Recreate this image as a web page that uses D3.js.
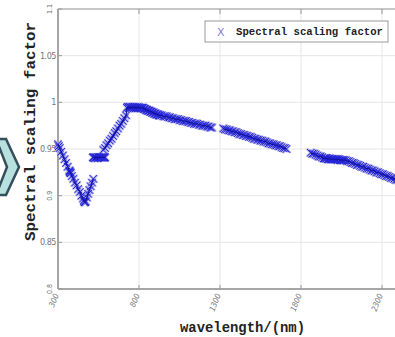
<!DOCTYPE html>
<html>
<head>
<meta charset="utf-8">
<script src="https://cdn.jsdelivr.net/npm/d3@7"></script>
<style>
html,body{margin:0;padding:0;background:#fff;}
svg{display:block;}
</style>
</head>
<body>
<svg id="chart" width="395" height="337"></svg>
<script>
// ---- data; null marks a break in the line ----
const wavelength = [
  300,305,310,320,330,340,350,360,370,372,374,376,378,
  385,395,405,415,425,435,445,455,460,462,464,466,468,470,
  478,486,494,502,510,518,
  null,
  515,519,523,527,531,535,539,543,547,551,555,559,563,567,571,575,579,583,587,591,
  null,
  580,590,600,610,620,630,640,650,660,670,680,690,700,710,720,
  726,730,734,738,742,746,750,754,758,762,766,770,774,778,782,786,790,794,798,802,806,810,814,818,
  822,826,830,834,838,842,846,850,854,858,862,866,870,874,878,882,886,890,894,898,902,906,910,914,918,922,926,930,
  940,950,960,970,980,990,1000,1010,1020,1030,1040,1050,1060,1070,1080,1090,1100,1110,1120,1130,1140,1150,1160,1170,1180,1190,1200,1210,1220,1230,1240,1250,
  null,
  1320,1330,1340,1350,1360,1370,1380,1390,1400,1410,1420,1430,1440,1450,1460,1470,1480,1490,1500,1510,1520,1530,1540,1550,1560,1570,1580,1590,1600,1610,1620,1630,1640,1650,1660,1670,1680,1690,1700,1710,
  null,
  1860,1870,1880,1890,1900,1910,1920,1930,1940,
  1945,1950,1955,1960,1965,1970,1975,1980,1985,1990,1995,2000,2005,2010,2015,2020,2025,2030,2035,2040,2045,2050,2055,2060,2065,
  2075,2085,2095,2105,2115,2125,2135,2145,2155,2165,2175,2185,2195,2205,2215,2225,2235,2245,2255,2265,2275,2285,2295,2305,2315,2325,2335,2345,2355,2365,2375,2385,2395
];
const scalingFactor = [
  0.955,0.953,0.951,0.947,0.943,0.939,0.935,0.931,0.927,0.926,0.925,0.925,0.924,
  0.921,0.918,0.914,0.911,0.907,0.904,0.900,0.897,0.895,0.894,0.893,0.893,0.893,0.894,
  0.898,0.902,0.906,0.910,0.914,0.918,
  null,
  0.941,0.941,0.941,0.940,0.941,0.941,0.941,0.940,0.941,0.941,0.941,0.941,0.941,0.941,0.941,0.941,0.941,0.941,0.941,0.941,
  null,
  0.949,0.951,0.954,0.956,0.959,0.961,0.964,0.967,0.969,0.972,0.975,0.977,0.980,0.983,0.986,
  0.994,0.995,0.995,0.994,0.995,0.995,0.994,0.995,0.994,0.995,0.995,0.994,0.995,0.994,0.994,0.995,0.994,0.994,0.995,0.994,0.994,0.994,0.994,0.994,
  0.994,0.994,0.993,0.993,0.993,0.992,0.992,0.992,0.991,0.991,0.991,0.991,0.990,0.990,0.990,0.989,0.989,0.989,0.988,0.988,0.988,0.987,0.987,0.987,0.987,0.986,0.986,0.986,
  0.986,0.985,0.985,0.985,0.984,0.984,0.983,0.983,0.982,0.982,0.982,0.981,0.981,0.980,0.980,0.980,0.979,0.979,0.978,0.978,0.977,0.977,0.977,0.976,0.976,0.975,0.975,0.975,0.974,0.974,0.973,0.973,
  null,
  0.972,0.971,0.971,0.970,0.970,0.969,0.969,0.968,0.968,0.967,0.966,0.966,0.965,0.965,0.964,0.964,0.963,0.963,0.962,0.961,0.961,0.960,0.960,0.959,0.959,0.958,0.958,0.957,0.956,0.956,0.955,0.955,0.954,0.954,0.953,0.953,0.952,0.951,0.951,0.950,
  null,
  0.946,0.945,0.945,0.944,0.943,0.942,0.942,0.941,0.940,
  0.940,0.940,0.940,0.940,0.939,0.939,0.940,0.939,0.939,0.939,0.939,0.939,0.939,0.939,0.939,0.939,0.938,0.939,0.939,0.938,0.938,0.938,0.938,0.938,0.938,
  0.938,0.937,0.937,0.936,0.935,0.935,0.934,0.933,0.933,0.932,0.931,0.931,0.930,0.929,0.929,0.928,0.927,0.927,0.926,0.925,0.925,0.924,0.923,0.923,0.922,0.921,0.921,0.920,0.919,0.919,0.918,0.917,0.917
];
const xTicks = [300, 800, 1300, 1800, 2300];
const xTickLabels = ["300", "800", "1300", "1800", "2300"];
const yTicks = [0.8, 0.85, 0.9, 0.95, 1, 1.05, 1.1];
const yTickLabels = ["0.8", "0.85", "0.9", "0.95", "1", "1.05", "1.1"];
const seriesName = "Spectral scaling factor";
const xTitle = "wavelength/(nm)";
const yTitle = "Spectral scaling factor";

// ---- drawing ----
const svg = d3.select("#chart");
const mLeft = 58, mTop = 9, mBottom = 289;
const x = d3.scaleLinear().domain([300, 2500]).range([mLeft, mLeft + 2200 * 0.162]);
const y = d3.scaleLinear().domain([0.8, 1.1]).range([mBottom, mTop]);
const W = 395;

// slide decoration (chevron at left edge)
svg.append("path")
  .attr("d", "M-4,139 L6,139 L19,167 L6,195 L-4,195 L7,167 Z")
  .attr("fill", "#b7e0df").attr("stroke", "#34505a").attr("stroke-width", 2.5);

// grid
const g = svg.append("g");
g.selectAll(".vg").data(xTicks.slice(1)).join("line")
  .attr("x1", d => x(d)).attr("x2", d => x(d)).attr("y1", mTop).attr("y2", mBottom)
  .attr("stroke", "#e6e6e6").attr("stroke-width", 1);
g.selectAll(".hg").data(yTicks.filter(v => v > 0.8 && v < 1.1)).join("line")
  .attr("x1", mLeft).attr("x2", W).attr("y1", d => y(d)).attr("y2", d => y(d))
  .attr("stroke", "#e6e6e6").attr("stroke-width", 1);

// frame
svg.append("line").attr("x1", mLeft).attr("x2", W).attr("y1", mTop).attr("y2", mTop)
  .attr("stroke", "#b4b4b4").attr("stroke-width", 1.5);
svg.append("line").attr("x1", mLeft).attr("x2", W).attr("y1", mBottom).attr("y2", mBottom)
  .attr("stroke", "#a6a6a6").attr("stroke-width", 2);
svg.append("line").attr("x1", mLeft).attr("x2", mLeft).attr("y1", mTop).attr("y2", mBottom)
  .attr("stroke", "#a6a6a6").attr("stroke-width", 2);

// ticks
svg.selectAll(".xtb").data(xTicks.slice(1)).join("line")
  .attr("x1", d => x(d)).attr("x2", d => x(d)).attr("y1", mBottom - 4).attr("y2", mBottom)
  .attr("stroke", "#999");
svg.selectAll(".xtt").data(xTicks.slice(1)).join("line")
  .attr("x1", d => x(d)).attr("x2", d => x(d)).attr("y1", mTop).attr("y2", mTop + 5)
  .attr("stroke", "#999");
svg.selectAll(".yt").data(yTicks).join("line")
  .attr("x1", mLeft).attr("x2", mLeft + 4).attr("y1", d => y(d)).attr("y2", d => y(d))
  .attr("stroke", "#999");

// y tick labels
const tickFont = "'Liberation Sans Narrow','DejaVu Sans Condensed',sans-serif";
yTicks.forEach((v, i) => {
  const lbl = yTickLabels[i];
  const rotated = (lbl === "0.9" || lbl === "0.8" || lbl === "1.1");
  const t = svg.append("text").text(lbl)
    .attr("font-family", tickFont).attr("fill", "#777");
  if (rotated) {
    t.attr("font-size", 7).attr("text-anchor", "middle")
     .attr("transform", `translate(${mLeft - 6},${y(v)}) rotate(-90)`);
  } else {
    t.attr("font-size", 9).attr("text-anchor", "end")
     .attr("x", mLeft - 2).attr("y", y(v) + 3).attr("letter-spacing", -0.5);
  }
});

// x tick labels
xTicks.forEach((v, i) => {
  svg.append("text").text(xTickLabels[i])
    .attr("font-family", tickFont).attr("font-size", 8).attr("font-style", "italic")
    .attr("fill", "#777").attr("text-anchor", "end")
    .attr("transform", `translate(${x(v) + 1},${mBottom + 6}) rotate(-68)`);
});

// axis titles
const titleFont = "'Liberation Mono','DejaVu Sans Mono',monospace";
svg.append("text").text(xTitle)
  .attr("font-family", titleFont).attr("font-weight", "bold").attr("font-size", 14)
  .attr("fill", "#222").attr("x", 180).attr("y", 332)
  .attr("textLength", 125).attr("lengthAdjust", "spacingAndGlyphs");
svg.append("text").text(yTitle)
  .attr("font-family", titleFont).attr("font-weight", "bold").attr("font-size", 15)
  .attr("fill", "#222").attr("text-anchor", "start")
  .attr("transform", `translate(35,241) rotate(-90)`)
  .attr("textLength", 219).attr("lengthAdjust", "spacingAndGlyphs");

// data series
const pts = wavelength.map((w, i) => ({w, v: scalingFactor[i]}));
const valid = pts.filter(p => p.w != null && p.v != null);
const line = d3.line().defined(p => p.w != null && p.v != null)
  .x(p => x(p.w)).y(p => y(p.v));
const xPath = (cx, cy, r) => `M${cx - r},${cy - r}L${cx + r},${cy + r}M${cx - r},${cy + r}L${cx + r},${cy - r}`;
const mk = svg.append("g");
mk.selectAll(".halo").data(valid).join("path")
  .attr("d", p => xPath(x(p.w), y(p.v), 3.8))
  .attr("stroke", "#a4a4e6").attr("stroke-width", 2.6).attr("fill", "none").attr("opacity", 0.8);
mk.selectAll(".mark").data(valid).join("path")
  .attr("d", p => xPath(x(p.w), y(p.v), 3.8))
  .attr("stroke", "#2424d8").attr("stroke-width", 1).attr("fill", "none");
svg.append("path").datum(pts).attr("d", line)
  .attr("fill", "none").attr("stroke", "#12129c").attr("stroke-width", 1.2);

// legend
svg.append("rect").attr("x", 205).attr("y", 21).attr("width", 183).attr("height", 21)
  .attr("fill", "#fff").attr("stroke", "#9a9a9a").attr("stroke-width", 1);
svg.append("text").text("X")
  .attr("font-family", "'DejaVu Sans',sans-serif").attr("font-size", 11)
  .attr("fill", "#8484d4").attr("x", 217).attr("y", 36);
svg.append("text").text(seriesName)
  .attr("font-family", titleFont).attr("font-weight", "bold").attr("font-size", 11)
  .attr("fill", "#222").attr("x", 236).attr("y", 35)
  .attr("textLength", 147).attr("lengthAdjust", "spacingAndGlyphs");
</script>
</body>
</html>
